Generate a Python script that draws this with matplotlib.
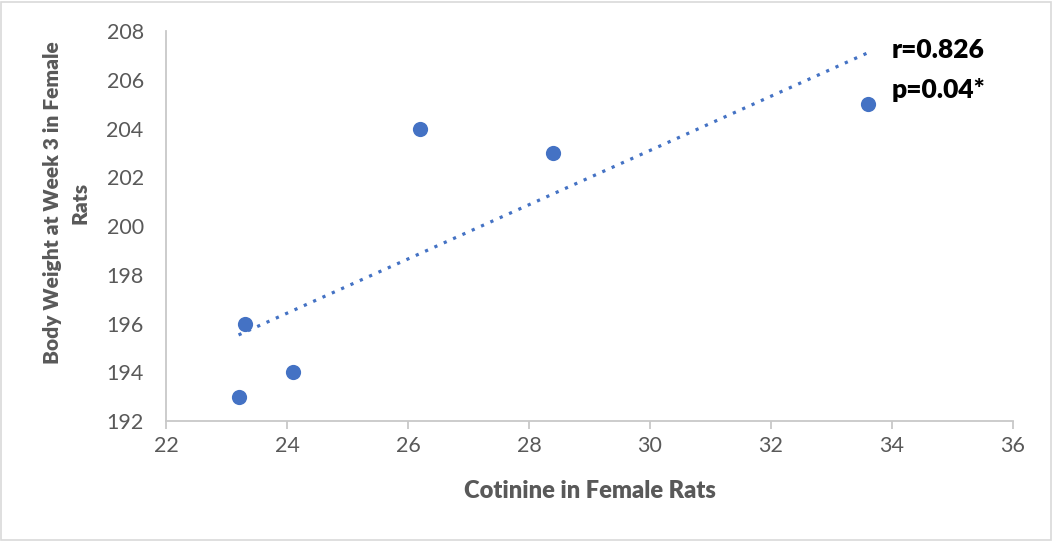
import numpy as np
import matplotlib
matplotlib.use("Agg")
import matplotlib.pyplot as plt
from matplotlib.patches import Rectangle

cotinine = [23.2, 23.3, 24.1, 26.2, 28.4, 33.6]
body_weight = [193, 196, 194, 204, 203, 205]
x_ticks = [22, 24, 26, 28, 30, 32, 34, 36]
y_ticks = [192, 194, 196, 198, 200, 202, 204, 206, 208]
annot_lines = ["r=0.826", "p=0.04*"]

plt.rcParams['font.family'] = ['Lato', 'DejaVu Sans']

fig = plt.figure(figsize=(10.53, 5.41), dpi=100)
fig.patches.append(Rectangle((0.001, 0.002), 0.997, 0.995, transform=fig.transFigure,
                             fill=False, edgecolor='#D9D9D9', linewidth=1.2))
ax = fig.add_axes([0.1576, 0.2218, 0.8044, 0.7209])

blue = '#4472C4'
grey = '#595959'
ax.scatter(cotinine, body_weight, s=120, color=blue, zorder=3, linewidths=0)

coef = np.polyfit(cotinine, body_weight, 1)
xs = np.array([min(cotinine), max(cotinine)])
ax.plot(xs, np.polyval(coef, xs), color=blue, linestyle=(0, (1, 2.2)), linewidth=2.3, zorder=2)

ax.set_xlim(22, 36)
ax.set_ylim(192, 208)
ax.set_xticks(x_ticks)
ax.set_yticks(y_ticks)
for s in ['top', 'right']:
    ax.spines[s].set_visible(False)
for s in ['left', 'bottom']:
    ax.spines[s].set_color('#C8C8C8')
    ax.spines[s].set_linewidth(1.3)
ax.tick_params(axis='x', direction='out', length=6, color='#C8C8C8', width=1.3,
               labelsize=15.5, labelcolor=grey, pad=5)
ax.tick_params(axis='y', length=0, labelsize=15.5, labelcolor=grey, pad=16)

ax.set_xlabel('Cotinine in Female Rats', fontsize=17, fontweight='heavy', color=grey, labelpad=17)
ax.set_ylabel('Body Weight at Week 3 in Female\nRats', fontsize=15, fontweight='heavy',
              color=grey, linespacing=1.55)
ax.yaxis.set_label_coords(-0.09, 0.559)

ax.text(34.0, 207.2, annot_lines[0], fontsize=19, fontweight='heavy', color='black', va='center')
ax.text(34.0, 205.6, annot_lines[1], fontsize=19, fontweight='heavy', color='black', va='center')

fig.savefig('out.png', dpi=100)
